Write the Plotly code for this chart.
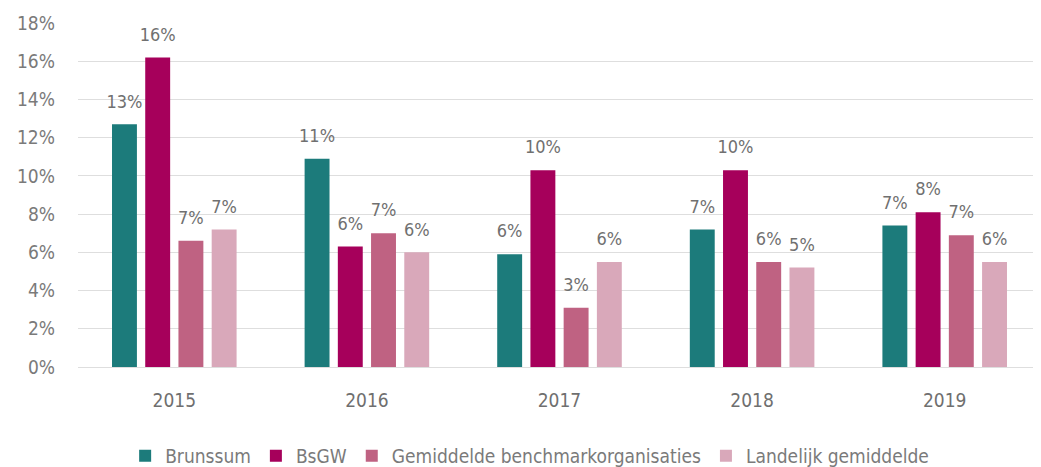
import plotly.graph_objects as go

years = ["2015", "2016", "2017", "2018", "2019"]
series_names = ["Brunssum", "BsGW", "Gemiddelde benchmarkorganisaties", "Landelijk gemiddelde"]
brunssum = [12.7, 10.9, 5.9, 7.2, 7.4]
bsgw = [16.2, 6.3, 10.3, 10.3, 8.1]
gemiddelde = [6.6, 7.0, 3.1, 5.5, 6.9]
landelijk = [7.2, 6.0, 5.5, 5.2, 5.5]
labels_brunssum = ["13%", "11%", "6%", "7%", "7%"]
labels_bsgw = ["16%", "6%", "10%", "10%", "8%"]
labels_gem = ["7%", "7%", "3%", "6%", "7%"]
labels_land = ["7%", "6%", "6%", "5%", "6%"]
y_ticks = [0, 2, 4, 6, 8, 10, 12, 14, 16, 18]
y_ticklabels = [f"{v}%" for v in y_ticks]

colors = ["#1c7b7b", "#a6005b", "#bf6282", "#d9a8ba"]
values = [brunssum, bsgw, gemiddelde, landelijk]
texts = [labels_brunssum, labels_bsgw, labels_gem, labels_land]

FONT = "DejaVu Sans Condensed, Roboto, Arial, sans-serif"
GAP = 0.31

fig = go.Figure()
for i, (name, vals, col) in enumerate(zip(series_names, values, colors)):
    fig.add_trace(go.Bar(
        name=name, x=years, y=vals, marker_color=col, marker_line_width=0,
        offsetgroup=str(i), alignmentgroup="a",
    ))
for i, (name, vals, txt) in enumerate(zip(series_names, values, texts)):
    fig.add_trace(go.Scatter(
        x=years, y=vals, text=txt, mode="text+markers",
        marker=dict(size=18, opacity=0), textposition="top center",
        textfont=dict(family=FONT, size=18, color="#707070"),
        offsetgroup=str(i), alignmentgroup="a",
        showlegend=False, hoverinfo="skip", cliponaxis=False,
    ))

# page body has an 8px default margin, margins compensate for it
fig.update_layout(
    width=1041, height=467,
    barmode="group", bargap=GAP, bargroupgap=0.25,
    scattermode="group", scattergap=GAP,
    plot_bgcolor="white", paper_bgcolor="white",
    margin=dict(l=70, r=8, t=15, b=108),
    font=dict(family=FONT, size=18, color="#7a7a7a"),
    showlegend=True,
    legend=dict(orientation="h", x=0.469, xanchor="center",
                yref="container", y=0.0, yanchor="bottom",
                font=dict(family=FONT, size=19, color="#7a7a7a"),
                itemwidth=30, traceorder="normal"),
)
fig.update_xaxes(showgrid=False, showline=False, ticks="", ticklabelstandoff=20,
                 automargin=False,
                 tickfont=dict(family=FONT, size=19, color="#6f6f6f"))
fig.update_yaxes(range=[0, 18], tickvals=y_ticks, ticktext=y_ticklabels,
                 showgrid=True, gridcolor="#dedede", gridwidth=1,
                 zeroline=True, zerolinecolor="#dedede", zerolinewidth=1,
                 ticks="", ticklabelstandoff=22, automargin=False,
                 tickfont=dict(family=FONT, size=19, color="#7a7a7a"))

fig.write_html("out.html")
